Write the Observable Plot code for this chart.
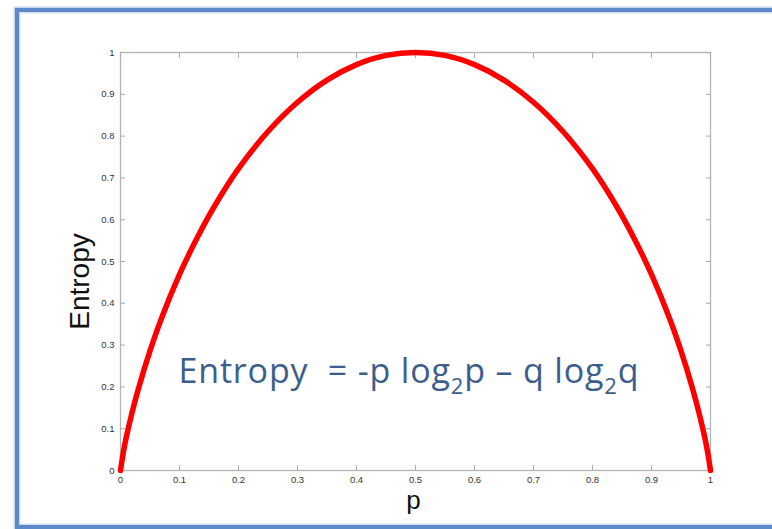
<!DOCTYPE html>
<html><head><meta charset="utf-8">
<script src="https://cdn.jsdelivr.net/npm/d3@7"></script>
<script src="https://cdn.jsdelivr.net/npm/@observablehq/plot@0.6"></script>
<style>
html,body{margin:0;padding:0;background:#fff;overflow:hidden;width:772px;height:529px;}
#chart{position:absolute;left:0;top:0;}
#frame{position:absolute;left:15px;top:8px;width:900px;height:521px;box-sizing:border-box;border:4px solid #5d89c8;box-shadow:0 0 2px 1px #aac5ea, inset 0 0 2px 1px #bcd2f0;pointer-events:none;}
</style></head><body>
<div id="chart"></div><div id="frame"></div>
<script>
// Curve values
const pValues = [0, 0.005, 0.01, 0.02, 0.03, 0.05, 0.07, 0.1, 0.13, 0.16, 0.2, 0.25, 0.3, 0.35, 0.4, 0.45, 0.5,
                 0.55, 0.6, 0.65, 0.7, 0.75, 0.8, 0.84, 0.87, 0.9, 0.93, 0.95, 0.97, 0.98, 0.99, 0.995, 1];
const entropyValues = [0, 0.045, 0.081, 0.141, 0.194, 0.286, 0.366, 0.469, 0.557, 0.634, 0.722, 0.811, 0.881, 0.934, 0.971, 0.993, 1,
                       0.993, 0.971, 0.934, 0.881, 0.811, 0.722, 0.634, 0.557, 0.469, 0.366, 0.286, 0.194, 0.141, 0.081, 0.045, 0];
const xTicks = [0, 0.1, 0.2, 0.3, 0.4, 0.5, 0.6, 0.7, 0.8, 0.9, 1];
const xTickLabels = ["0", "0.1", "0.2", "0.3", "0.4", "0.5", "0.6", "0.7", "0.8", "0.9", "1"];
const yTicks = [0, 0.1, 0.2, 0.3, 0.4, 0.5, 0.6, 0.7, 0.8, 0.9, 1];
const yTickLabels = ["0", "0.1", "0.2", "0.3", "0.4", "0.5", "0.6", "0.7", "0.8", "0.9", "1"];
const xLabel = "p";
const yLabel = "Entropy";
const formulaParts = ["Entropy  = -p log", "2", "p \u2013 q log", "2", "q"];
const formulaIsSub = [false, true, false, true, false];

const data = pValues.map((p, i) => ({p, h: entropyValues[i]}));
const none = () => "";
const formulaText = formulaParts.join("");

const chart = Plot.plot({
  width: 772, height: 529,
  marginLeft: 120, marginRight: 62, marginTop: 52, marginBottom: 59,
  style: {fontFamily: "'Liberation Sans', Arial, sans-serif", background: "transparent"},
  x: {domain: [0, 1]},
  y: {domain: [0, 1]},
  marks: [
    Plot.frame({stroke: "#b4b4b4", strokeWidth: 1.3}),
    Plot.axisX({anchor: "bottom", ticks: xTicks, tickFormat: d => xTickLabels[xTicks.indexOf(d)], tickSize: 5, dy: -5, tickPadding: 6, fontSize: 9.5, fill: "#333", stroke: "#aaa", label: null}),
    Plot.axisX({anchor: "top", ticks: xTicks, tickFormat: none, tickSize: 5, dy: 5, stroke: "#aaa", label: null}),
    Plot.axisY({anchor: "left", ticks: yTicks, tickFormat: d => yTickLabels[yTicks.indexOf(d)], tickSize: 5, dx: 5, tickPadding: 6, fontSize: 9.5, fill: "#333", stroke: "#aaa", label: null}),
    Plot.axisY({anchor: "right", ticks: yTicks, tickFormat: none, tickSize: 5, dx: -5, stroke: "#aaa", label: null}),
    Plot.line(data, {x: "p", y: "h", stroke: "#ff0000", strokeWidth: 5.5, curve: "catmull-rom"}),
    Plot.text([xLabel], {frameAnchor: "bottom", dx: -2, dy: 38, lineAnchor: "bottom", fontSize: 26, fill: "#111"}),
    Plot.text([yLabel], {frameAnchor: "left", rotate: -90, dx: -32, dy: 20, lineAnchor: "bottom", textAnchor: "middle", fontSize: 28, fill: "#111"}),
    Plot.text([formulaText], {frameAnchor: "bottom-left", dx: 58, dy: -88, textAnchor: "start", lineAnchor: "bottom", fontSize: 34, fontFamily: "'Open Sans', sans-serif", fill: "#3c5e8c"})
  ]
});
document.getElementById("chart").appendChild(chart);

// Rebuild the formula with subscripts
const svgNS = "http://www.w3.org/2000/svg";
const ft = Array.from(chart.querySelectorAll("text")).find(t => t.textContent === formulaText);
if (ft) {
  ft.textContent = "";
  ft.setAttribute("xml:space", "preserve");
  ft.style.whiteSpace = "pre";
  formulaParts.forEach((s, i) => {
    const ts = document.createElementNS(svgNS, "tspan");
    ts.textContent = s;
    if (formulaIsSub[i]) { ts.setAttribute("font-size", 22); ts.setAttribute("dy", 11); }
    else if (i > 0 && formulaIsSub[i - 1]) { ts.setAttribute("dy", -11); }
    ft.appendChild(ts);
  });
  ft.setAttribute("textLength", 460);
  ft.setAttribute("lengthAdjust", "spacing");
}
</script>
</body></html>
